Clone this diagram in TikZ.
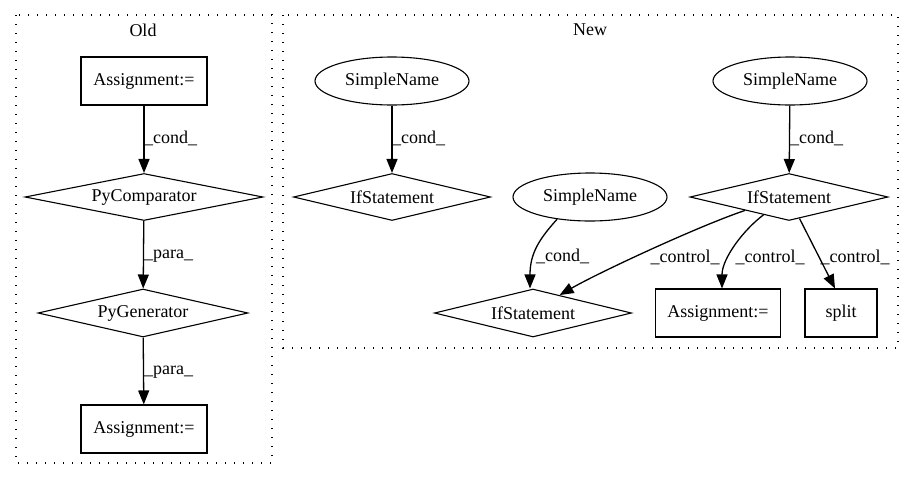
\documentclass[tikz,border=0pt]{standalone}
\usepackage{fontspec}
\setmainfont{Liberation Serif}
\usetikzlibrary{shapes.geometric,arrows.meta}
\begin{document}
\begin{tikzpicture}[x=1pt,y=1pt,
  every node/.style={font=\fontsize{18}{21}\selectfont},
  rbox/.style={draw, line width=1.1pt, inner sep=0pt, minimum height=48pt},
  dia/.style={draw, diamond, aspect=4.5, inner sep=0pt, line width=1.1pt},
  ell/.style={draw, ellipse, inner sep=0pt, line width=1.1pt, minimum width=154pt, minimum height=48pt},
  conn/.style={line width=1.3pt, -{Triangle[length=14pt,width=11pt]}},
  lbl/.style={anchor=west, inner sep=0pt},
  clus/.style={line width=1.4pt, dash pattern=on 1.4pt off 7.6pt}]
\useasboundingbox (0,0) rectangle (915,-480);
% clusters
\draw[clus] (16,-15) rectangle (272,-463);
\node (oldlbl) at (143,-30) {Old};
\draw[clus] (283,-15) rectangle (898,-348);
\node (newlbl) at (590,-30) {New};
% Old nodes
\node[rbox, minimum width=126pt] (oldA1) at (144,-81) {Assignment:=};
\node[dia, minimum width=238pt, minimum height=47pt] (pycomp) at (144,-197) {PyComparator};
\node[dia, minimum width=210pt, minimum height=48pt] (pygen) at (143,-313) {PyGenerator};
\node[rbox, minimum width=126pt] (oldA2) at (144,-429) {Assignment:=};
% New nodes
\node[ell] (sn1) at (392,-81) {SimpleName};
\node[dia, minimum width=197pt, minimum height=47pt] (if1) at (392,-197) {IfStatement};
\node[ell] (sn2) at (590,-197) {SimpleName};
\node[dia, minimum width=197pt, minimum height=48pt] (if3) at (533,-313) {IfStatement};
\node[ell] (sn3) at (790,-81) {SimpleName};
\node[dia, minimum width=198pt, minimum height=47pt] (if2) at (789,-197) {IfStatement};
\node[rbox, minimum width=125pt] (newA) at (718,-313) {Assignment:=};
\node[rbox, minimum width=72pt] (split) at (841,-313) {split};
% Old edges
\draw[conn] (oldA1) -- (pycomp);
\node[lbl] (l1) at (144,-138) {\_cond\_};
\draw[conn] (pycomp) -- (pygen);
\node[lbl] (l2) at (144,-256) {\_para\_};
\draw[conn] (pygen) -- (oldA2);
\node[lbl] (l3) at (144,-372) {\_para\_};
% New edges
\draw[conn] (sn1) -- (if1);
\node[lbl] (l4) at (392,-138) {\_cond\_};
\draw[conn] (sn3) -- (if2);
\node[lbl] (l5) at (790,-138) {\_cond\_};
\draw[conn] (sn2.214) .. controls +(-18,-20) and +(0,35) .. ([xshift=-3pt]if3.north);
\node[lbl] (l6) at (536,-256) {\_cond\_};
\draw[conn] (if2.197) .. controls +(-45,-15) and +(40,23) .. (if3.34);
\node (l7) at (685,-257) {\_control\_};
\draw[conn] (if2.215) .. controls +(-20,-15) and +(0,30) .. ([xshift=4pt]newA.north);
\node (l8) at (770,-257) {\_control\_};
\draw[conn] (if2.296) -- ([xshift=-6pt]split.north);
\node (l9) at (855,-257) {\_control\_};
\end{tikzpicture}
\end{document}
